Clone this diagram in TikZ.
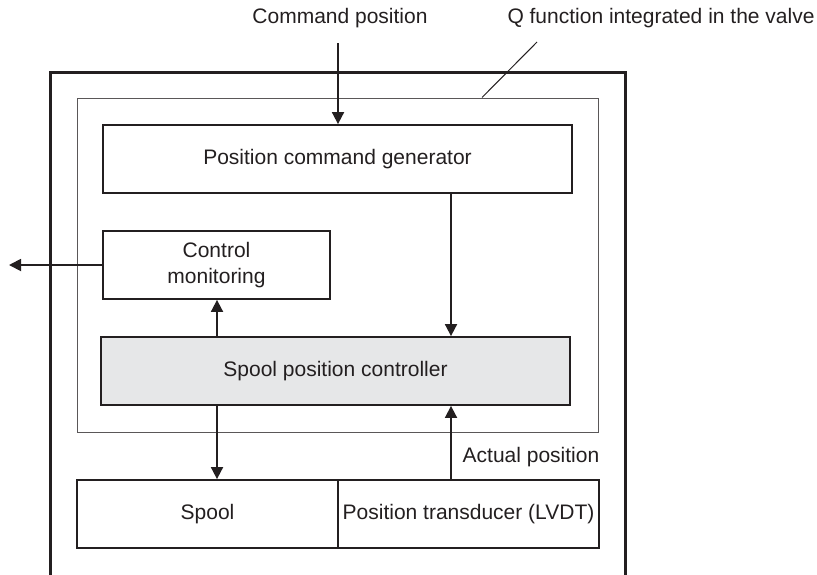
\documentclass[tikz,border=0pt]{standalone}
\usepackage{fontspec}
\setmainfont{Liberation Sans}
\usetikzlibrary{arrows.meta}
\definecolor{ink}{RGB}{35,31,32}
\definecolor{boxgray}{RGB}{230,231,232}
\begin{document}
\begin{tikzpicture}[x = 0.5pt, y = -0.5pt, line join = miter, font = \fontsize{10.5}{13}\selectfont, every node/.style = {text = ink, inner sep = 0pt}, block/.style = {draw = ink, line width = 0.9pt, rectangle, fill = white, align = center, minimum height = 34pt}, arr/.style = {draw = ink, line width = 0.9pt, -{Triangle[width = 6pt, length = 6pt]}}]
        \useasboundingbox (0,0) rectangle (817,574);
        \draw[ink, line width = 1.5pt] (50,575) |- (625,72) -- (625,575);
        \node[draw = ink!75, line width = 0.5pt, minimum width = 260.5pt, minimum height = 167pt] (valve) at (337.5,265) {};
        \node[block, minimum width = 234.5pt] (pcg) at (337.5,159) {Position command generator};
        \node[block, minimum width = 113.5pt] (mon) at (216.5,265) {Control\\monitoring};
        \node[block, fill = boxgray, minimum width = 234.5pt] (spc) at (335.5,371) {Spool position controller};
        \node[block, minimum width = 130.5pt] (spool) at (207.5,514) {Spool};
        \node[block, minimum width = 130.5pt] (trans) at (468.5,514) {Position transducer (LVDT)};
        \node (cmd) at (340,18) {Command position};
        \node (qlabel) at (661,18) {Q function integrated in the valve};
        \node (act) at (531,457) {Actual position};
        \coordinate (cmdin) at (338,43);
        \coordinate (qend) at (537,42);
        \coordinate (out) at (9,265);
        \coordinate (sx) at (217,0);
        \coordinate (fb) at (451,0);
        \draw[arr] (cmdin) -- (cmdin |- pcg.north);
        \draw[ink, line width = 0.5pt] ([xshift = 72.25pt]valve.north) -- (qend);
        \draw[arr] (mon.west) -- (out);
        \draw[arr] (pcg.south -| fb) -- (spc.north -| fb);
        \draw[arr] (spc.north -| sx) -- (mon.south -| sx);
        \draw[arr] (spc.south -| sx) -- (spool.north -| sx);
        \draw[arr] (trans.north -| fb) -- (spc.south -| fb);
    \end{tikzpicture}
\end{document}
